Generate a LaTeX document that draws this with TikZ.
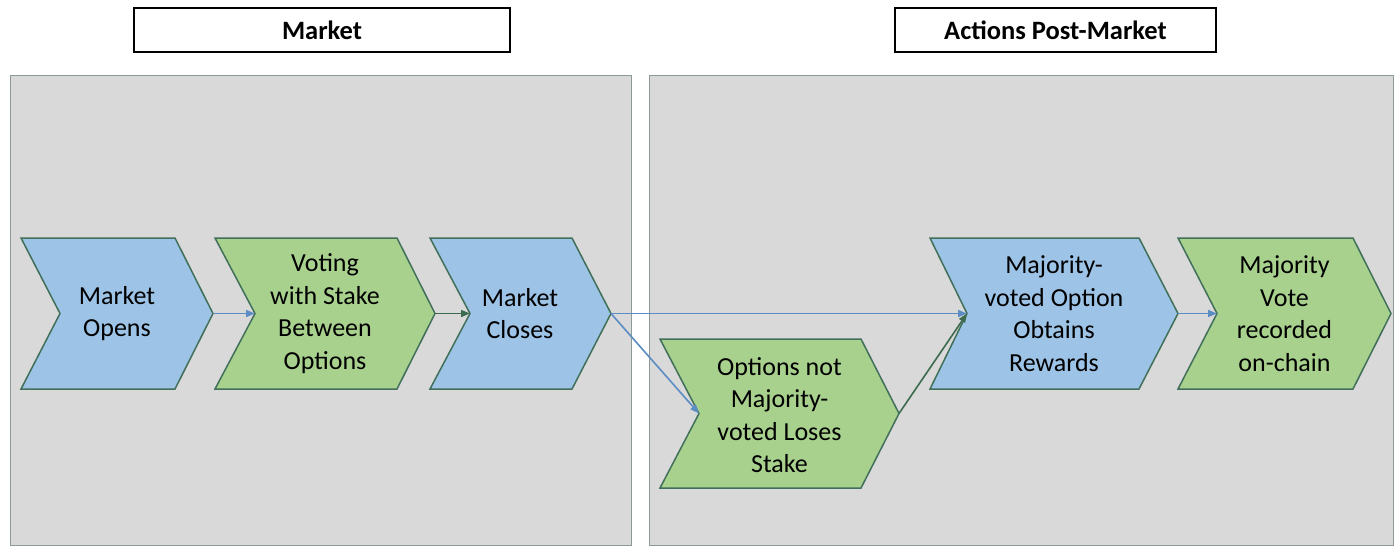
\documentclass[tikz,border=0pt]{standalone}
\usepackage{fontspec}
\setmainfont{Carlito}
\usepackage{tikz}
\usetikzlibrary{arrows.meta}

\definecolor{chevblue}{HTML}{9DC3E6}
\definecolor{chevgreen}{HTML}{A9D18E}
\definecolor{chevline}{HTML}{41705A}
\definecolor{panelgrey}{HTML}{D9D9D9}
\definecolor{panelline}{HTML}{8C9A9A}
\definecolor{linkblue}{HTML}{5B8CC4}
\definecolor{linkgreen}{HTML}{3D6B4F}

\begin{document}
\begin{tikzpicture}[x=1pt, y=-1pt,
	panel/.style = {fill=panelgrey, draw=panelline, line width=1pt},
	titlebox/.style = {draw=black, line width=1.8pt, fill=white, minimum height=44pt, font=\fontsize{26.5}{30}\selectfont\bfseries},
	bluechev/.style = {fill=chevblue, draw=chevline, line width=1.5pt, line join=miter},
	greenchev/.style = {fill=chevgreen, draw=chevline, line width=1.5pt, line join=miter},
	chevtext/.style = {align=center, font=\fontsize{26}{32.5}\selectfont},
	link/.style = {line width=1.6pt, arrows = {-Triangle[length=9pt, width=7pt]}}]

		\useasboundingbox (0,0) rectangle (1400,554);

		% panels and their titles
		\draw[panel] (10,75) rectangle (631,545);
		\draw[panel] (649,75) rectangle (1393,545);
		\node[titlebox, minimum width=376pt] (markettitle) at (322,30) {Market};
		\node[titlebox, minimum width=321pt] (posttitle) at (1055.5,30) {Actions Post-Market};

		% market
		\draw[bluechev] (21,238) -- (175,238) -- (213,313.5) coordinate (opensTip) -- (175,389) -- (21,389) -- (60,313.5) coordinate (opensIn) -- cycle;
		\node[chevtext] (opens) at (117,313.5) {Market\\Opens};

		\draw[greenchev] (215,238) -- (397,238) -- (435,313.5) coordinate (votingTip) -- (397,389) -- (215,389) -- (255,313.5) coordinate (votingIn) -- cycle;
		\node[chevtext] (voting) at (325,313.5) {Voting\\with Stake\\Between\\Options};

		\draw[bluechev] (430,238) -- (572,238) -- (611,313.5) coordinate (closesTip) -- (572,389) -- (430,389) -- (470,313.5) coordinate (closesIn) -- cycle;
		\node[chevtext] (closes) at (520,313.5) {Market\\Closes};

		% post-market
		\draw[greenchev] (660,339) -- (861,339) -- (899,413.5) coordinate (losesTip) -- (861,488) -- (660,488) -- (699,413.5) coordinate (losesIn) -- cycle;
		\node[chevtext] (loses) at (779.5,415) {Options not\\Majority-\\voted Loses\\Stake};

		\draw[bluechev] (930,238) -- (1139,238) -- (1178,313.5) coordinate (rewardsTip) -- (1139,389) -- (930,389) -- (967,313.5) coordinate (rewardsIn) -- cycle;
		\node[chevtext] (rewards) at (1054,313.5) {Majority-\\voted Option\\Obtains\\Rewards};

		\draw[greenchev] (1178,238) -- (1353,238) -- (1391,313.5) coordinate (recordTip) -- (1353,389) -- (1178,389) -- (1217,313.5) coordinate (recordIn) -- cycle;
		\node[chevtext] (record) at (1284.5,313.5) {Majority\\Vote\\recorded\\on-chain};

		% connectors
		\draw[link, linkblue] (opensTip) -- (votingIn);
		\draw[link, linkgreen] (votingTip) -- (closesIn);
		\draw[link, linkblue] (closesTip) -- (rewardsIn);
		\draw[link, linkblue] (closesTip) -- (losesIn);
		\draw[link, linkgreen] (losesTip) -- (rewardsIn);
		\draw[link, linkblue] (rewardsTip) -- (recordIn);

	\end{tikzpicture}
\end{document}
